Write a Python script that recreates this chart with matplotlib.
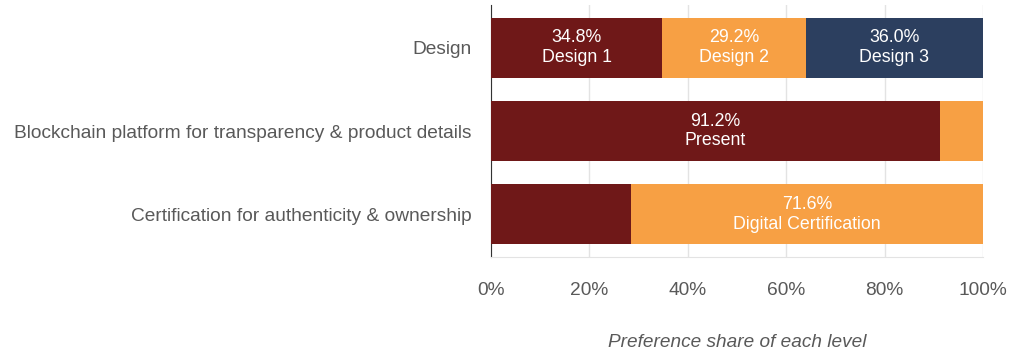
import matplotlib
matplotlib.use("Agg")
import matplotlib.pyplot as plt
import numpy as np

plt.rcParams['font.family'] = ['Liberation Sans', 'DejaVu Sans']

categories = ["Design",
              "Blockchain platform for transparency & product details",
              "Certification for authenticity & ownership"]
# segment shares per category (percent), in stacking order
seg1 = [34.8, 91.2, 28.4]
seg2 = [29.2, 8.8, 71.6]
seg3 = [36.0, 0.0, 0.0]
seg1_labels = ["Design 1", "Present", None]
seg2_labels = ["Design 2", None, "Digital Certification"]
seg3_labels = ["Design 3", None, None]
xticks = [0, 20, 40, 60, 80, 100]
xlabel = "Preference share of each level"

c1, c2, c3 = "#6F1818", "#F7A044", "#2C3F5F"

fig = plt.figure(figsize=(10.13, 3.56), dpi=100)
ax = fig.add_axes([491/1013, 1-257/356, (983-491)/1013, (257-5)/356])

y = np.arange(len(categories))
h = 0.72
s1 = np.array(seg1); s2 = np.array(seg2); s3 = np.array(seg3)
ax.barh(y, s1, height=h, color=c1, zorder=3)
ax.barh(y, s2, left=s1, height=h, color=c2, zorder=3)
ax.barh(y, s3, left=s1+s2, height=h, color=c3, zorder=3)

def put(vals, lefts, labels):
    for i, (v, l, lab) in enumerate(zip(vals, lefts, labels)):
        if lab:
            ax.text(l + v/2, y[i], f"{v:.1f}%\n{lab}", ha="center", va="center",
                    color="white", fontsize=12.8, linespacing=1.17, zorder=4)

put(s1, np.zeros_like(s1), seg1_labels)
put(s2, s1, seg2_labels)
put(s3, s1+s2, seg3_labels)

ax.set_xlim(0, 100)
ax.set_ylim(2.51, -0.51)
ax.set_yticks(y)
ax.set_yticklabels(categories)
ax.set_xticks(xticks)
ax.set_xticklabels([f"{t}%" for t in xticks])
ax.tick_params(axis='both', length=0, labelsize=13.8, colors="#595959")
ax.tick_params(axis='x', pad=18)
ax.tick_params(axis='y', pad=14)
ax.grid(axis='x', color="#E3E3E3", linewidth=1, zorder=0)
for sp in ["top", "right"]:
    ax.spines[sp].set_visible(False)
ax.spines["bottom"].set_color("#E3E3E3")
ax.spines["left"].set_color("#333333")
ax.set_xlabel(xlabel, fontsize=13.7, style="italic", color="#595959", labelpad=25)

fig.savefig("out.png", dpi=100)
